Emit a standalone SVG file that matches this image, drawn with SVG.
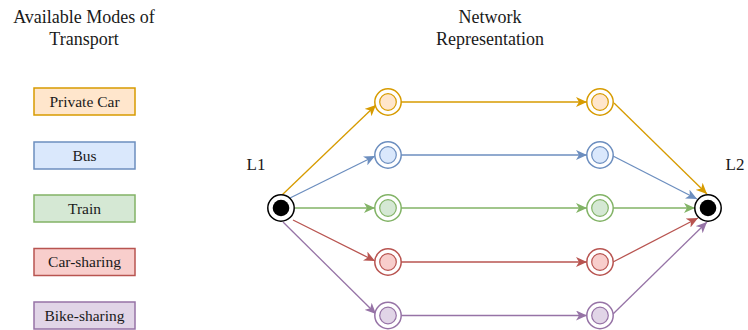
<svg xmlns="http://www.w3.org/2000/svg" width="748" height="330" viewBox="0 0 748 330">
<style>
text{font-family:"Liberation Serif","Times New Roman",serif;fill:#1a1a1a;text-anchor:middle}
.title{font-size:18px}
.lbl{font-size:15.5px}
.big{font-size:17px}
.box{stroke-width:1.5}
.edge{fill:none;stroke-width:1.3}
.o{stroke:#d79b00}.b{stroke:#6c8ebf}.g{stroke:#82b366}.r{stroke:#b85450}.p{stroke:#9673a6}
.fo{fill:#ffe6cc}.fb{fill:#dae8fc}.fg{fill:#d5e8d4}.fr{fill:#f8cecc}.fp{fill:#e1d5e7}
.ring{fill:#fff;stroke-width:1.5}
.inner{stroke-width:1.2}
</style>
<defs>
<marker id="ao" markerWidth="12" markerHeight="10" refX="11" refY="5" orient="auto" markerUnits="userSpaceOnUse"><path d="M0,0 L11,5 L0,10 L3,5 Z" fill="#d79b00"/></marker>
<marker id="ab" markerWidth="12" markerHeight="10" refX="11" refY="5" orient="auto" markerUnits="userSpaceOnUse"><path d="M0,0 L11,5 L0,10 L3,5 Z" fill="#6c8ebf"/></marker>
<marker id="ag" markerWidth="12" markerHeight="10" refX="11" refY="5" orient="auto" markerUnits="userSpaceOnUse"><path d="M0,0 L11,5 L0,10 L3,5 Z" fill="#82b366"/></marker>
<marker id="ar" markerWidth="12" markerHeight="10" refX="11" refY="5" orient="auto" markerUnits="userSpaceOnUse"><path d="M0,0 L11,5 L0,10 L3,5 Z" fill="#b85450"/></marker>
<marker id="ap" markerWidth="12" markerHeight="10" refX="11" refY="5" orient="auto" markerUnits="userSpaceOnUse"><path d="M0,0 L11,5 L0,10 L3,5 Z" fill="#9673a6"/></marker>
</defs>
<rect width="748" height="330" fill="#fff"/>

<g id="titles">
<text class="title" x="84" y="23">Available Modes of</text>
<text class="title" x="84" y="45">Transport</text>
<text class="title" x="490" y="23">Network</text>
<text class="title" x="490" y="45">Representation</text>
</g>

<g id="legend-private-car"><rect class="box fo o" x="34" y="88" width="101" height="27"/><text class="lbl" x="84.5" y="106.5">Private Car</text></g>
<g id="legend-bus"><rect class="box fb b" x="34" y="142" width="101" height="27"/><text class="lbl" x="84.5" y="160.5">Bus</text></g>
<g id="legend-train"><rect class="box fg g" x="34" y="195" width="101" height="27"/><text class="lbl" x="84.5" y="213.5">Train</text></g>
<g id="legend-car-sharing"><rect class="box fr r" x="34" y="248.5" width="101" height="27"/><text class="lbl" x="84.5" y="267">Car-sharing</text></g>
<g id="legend-bike-sharing"><rect class="box fp p" x="34" y="302" width="101" height="27"/><text class="lbl" x="84.5" y="320.5">Bike-sharing</text></g>

<g id="connectors">
<path class="edge o" d="M282,195 L376,105" marker-end="url(#ao)"/>
<path class="edge b" d="M290,198 L375,156" marker-end="url(#ab)"/>
<path class="edge g" d="M295,208 L375,208" marker-end="url(#ag)"/>
<path class="edge r" d="M293,220 L375,261" marker-end="url(#ar)"/>
<path class="edge p" d="M283,222 L376,314" marker-end="url(#ap)"/>
<path class="edge o" d="M401,102 L587,102" marker-end="url(#ao)"/>
<path class="edge b" d="M401,155 L587,155" marker-end="url(#ab)"/>
<path class="edge g" d="M401,208 L587,208" marker-end="url(#ag)"/>
<path class="edge r" d="M401,262 L587,262" marker-end="url(#ar)"/>
<path class="edge p" d="M401,315.5 L587,315.5" marker-end="url(#ap)"/>
<path class="edge o" d="M614,103 L707,194" marker-end="url(#ao)"/>
<path class="edge b" d="M613,156 L697,199" marker-end="url(#ab)"/>
<path class="edge g" d="M613,208 L695,208" marker-end="url(#ag)"/>
<path class="edge r" d="M613,262 L698,218" marker-end="url(#ar)"/>
<path class="edge p" d="M613,314 L707,222" marker-end="url(#ap)"/>
</g>

<g id="L1"><circle cx="281" cy="208" r="13.2" fill="#fff" stroke="#000" stroke-width="1.5"/><circle cx="281" cy="208" r="8.3" fill="#000"/><text class="big" x="256" y="170">L1</text></g>
<g id="L2"><circle cx="708" cy="208" r="13.2" fill="#fff" stroke="#000" stroke-width="1.5"/><circle cx="708" cy="208" r="8.3" fill="#000"/><text class="big" x="735" y="170">L2</text></g>

<g id="n-car-1"><circle class="ring o" cx="388" cy="102" r="13.2"/><circle class="inner fo o" cx="388" cy="102" r="8.3"/></g>
<g id="n-bus-1"><circle class="ring b" cx="388" cy="155" r="13.2"/><circle class="inner fb b" cx="388" cy="155" r="8.3"/></g>
<g id="n-train-1"><circle class="ring g" cx="388" cy="208" r="13.2"/><circle class="inner fg g" cx="388" cy="208" r="8.3"/></g>
<g id="n-cs-1"><circle class="ring r" cx="388" cy="262" r="13.2"/><circle class="inner fr r" cx="388" cy="262" r="8.3"/></g>
<g id="n-bs-1"><circle class="ring p" cx="388" cy="315.5" r="13.2"/><circle class="inner fp p" cx="388" cy="315.5" r="8.3"/></g>

<g id="n-car-2"><circle class="ring o" cx="600" cy="102" r="13.2"/><circle class="inner fo o" cx="600" cy="102" r="8.3"/></g>
<g id="n-bus-2"><circle class="ring b" cx="600" cy="155" r="13.2"/><circle class="inner fb b" cx="600" cy="155" r="8.3"/></g>
<g id="n-train-2"><circle class="ring g" cx="600" cy="208" r="13.2"/><circle class="inner fg g" cx="600" cy="208" r="8.3"/></g>
<g id="n-cs-2"><circle class="ring r" cx="600" cy="262" r="13.2"/><circle class="inner fr r" cx="600" cy="262" r="8.3"/></g>
<g id="n-bs-2"><circle class="ring p" cx="600" cy="315.5" r="13.2"/><circle class="inner fp p" cx="600" cy="315.5" r="8.3"/></g>
</svg>
